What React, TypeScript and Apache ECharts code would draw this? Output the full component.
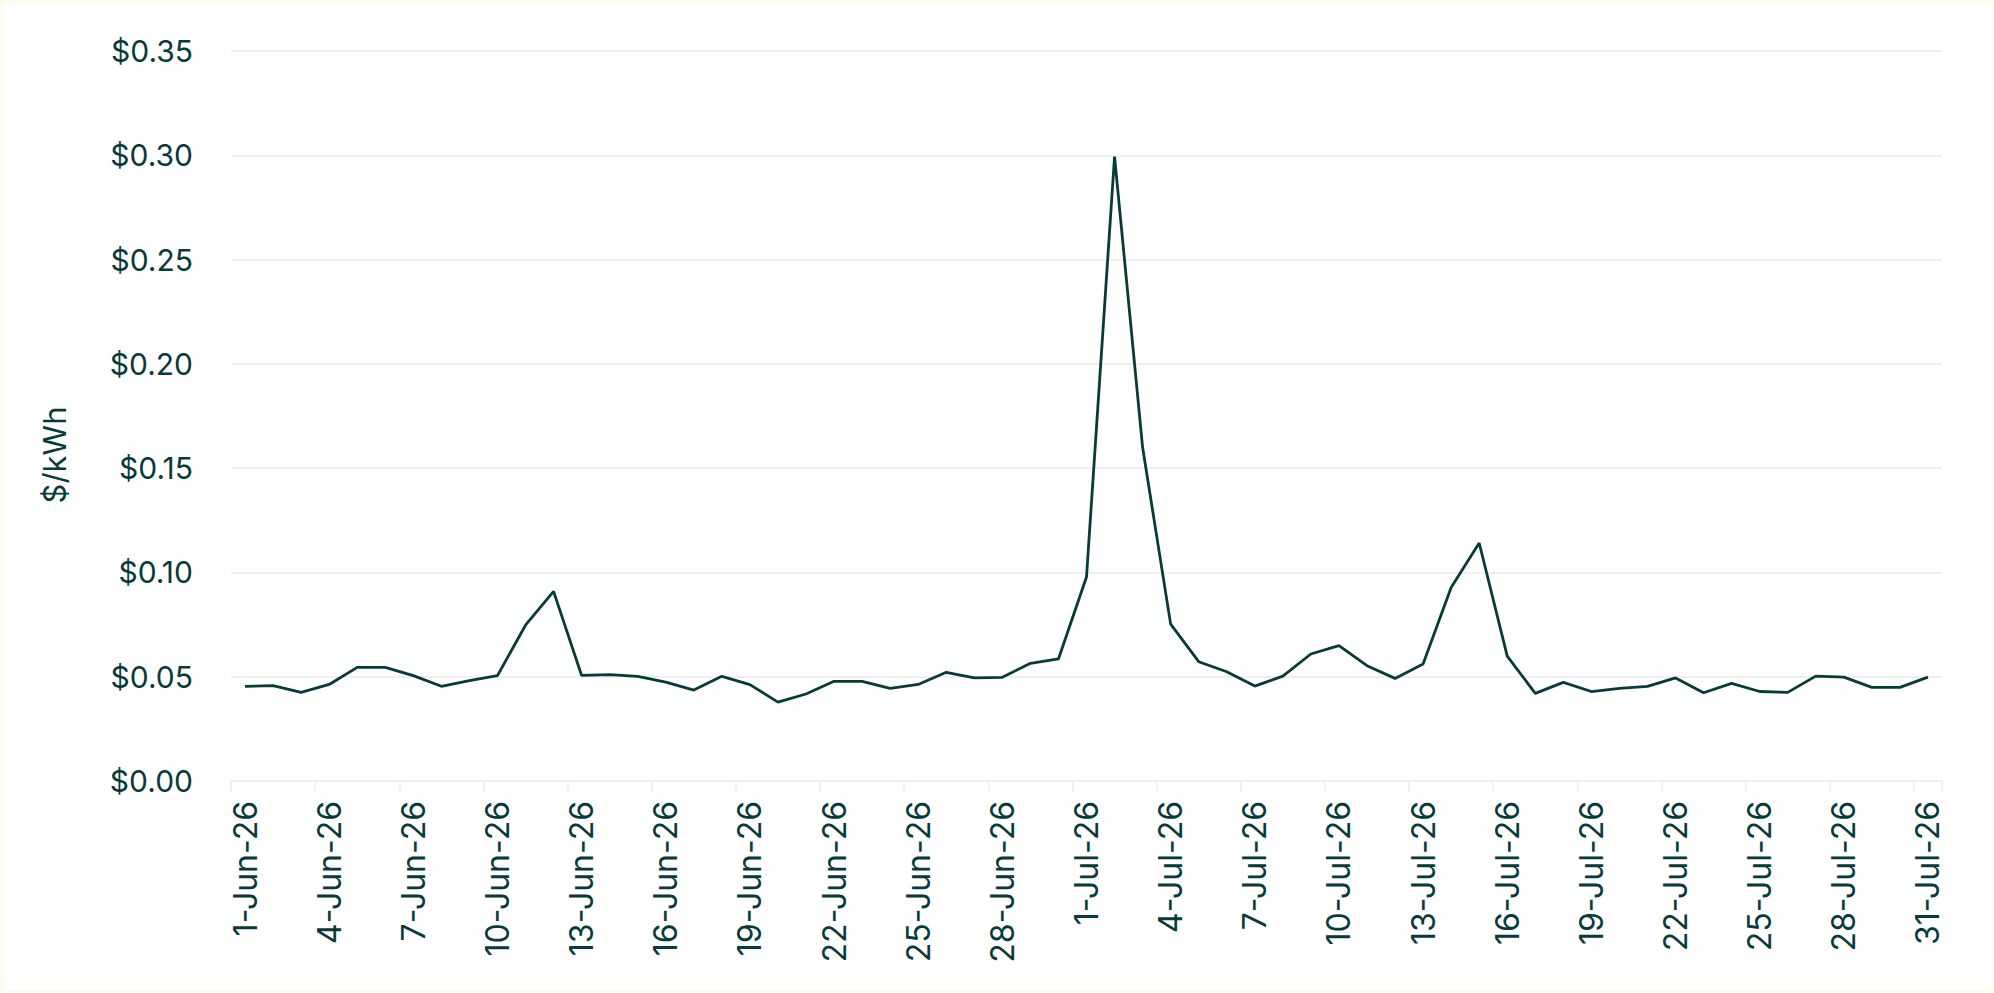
import React, { useEffect, useRef } from "react";
import * as echarts from "echarts";

const categories: string[] = [
  "1-Jun-26", "2-Jun-26", "3-Jun-26", "4-Jun-26", "5-Jun-26", "6-Jun-26", "7-Jun-26", "8-Jun-26",
  "9-Jun-26", "10-Jun-26", "11-Jun-26", "12-Jun-26", "13-Jun-26", "14-Jun-26", "15-Jun-26",
  "16-Jun-26", "17-Jun-26", "18-Jun-26", "19-Jun-26", "20-Jun-26", "21-Jun-26", "22-Jun-26",
  "23-Jun-26", "24-Jun-26", "25-Jun-26", "26-Jun-26", "27-Jun-26", "28-Jun-26", "29-Jun-26",
  "30-Jun-26", "1-Jul-26", "2-Jul-26", "3-Jul-26", "4-Jul-26", "5-Jul-26", "6-Jul-26", "7-Jul-26",
  "8-Jul-26", "9-Jul-26", "10-Jul-26", "11-Jul-26", "12-Jul-26", "13-Jul-26", "14-Jul-26",
  "15-Jul-26", "16-Jul-26", "17-Jul-26", "18-Jul-26", "19-Jul-26", "20-Jul-26", "21-Jul-26",
  "22-Jul-26", "23-Jul-26", "24-Jul-26", "25-Jul-26", "26-Jul-26", "27-Jul-26", "28-Jul-26",
  "29-Jul-26", "30-Jul-26", "31-Jul-26",
];

const juneValues: number[] = [
  0.0454, 0.0457, 0.0425, 0.0463, 0.0545, 0.0545, 0.0505, 0.0454, 0.0481, 0.0505,
  0.0747, 0.0909, 0.0506, 0.051, 0.0502, 0.0474, 0.0436, 0.0502, 0.0462, 0.0378,
  0.0417, 0.0478, 0.0478, 0.0444, 0.0463, 0.0521, 0.0494, 0.0497, 0.0564, 0.0585,
];

const julyValues: number[] = [
  0.0978, 0.2994, 0.16, 0.0752, 0.0572, 0.0524, 0.0455, 0.0503, 0.0609, 0.0649,
  0.0553, 0.0492, 0.0561, 0.0928, 0.1141, 0.0599, 0.042, 0.0473, 0.0429, 0.0444,
  0.0454, 0.0494, 0.0423, 0.0468, 0.0429, 0.0425, 0.0503, 0.0498, 0.0449, 0.0449,
  0.0498,
];

const yAxisName = "$/kWh";
const yMin = 0;
const yMax = 0.35;
const yStep = 0.05;

const TEXT = "#073b3b";
const LINE = "#063c38";
const GRID = "#efefef";
const FONT = "Inter, 'Liberation Sans', sans-serif";

export default function App() {
  const ref = useRef<HTMLDivElement>(null);

  useEffect(() => {
    document.body.style.margin = "0";
    document.body.style.overflow = "hidden";
    if (!ref.current) return;
    const chart = echarts.init(ref.current, undefined, { renderer: "svg" });
    const values = [...juneValues, ...julyValues];
    chart.setOption({
      animation: false,
      backgroundColor: "#ffffff",
      grid: { left: 231, right: 52, top: 51, bottom: 212, containLabel: false },
      xAxis: {
        type: "category",
        data: categories,
        boundaryGap: true,
        axisLine: { show: true, lineStyle: { color: GRID, width: 2 } },
        axisTick: { show: true, interval: 2, length: 10, lineStyle: { color: GRID, width: 2 } },
        axisLabel: {
          interval: 2,
          rotate: 90,
          margin: 20,
          color: TEXT,
          fontFamily: FONT,
          fontSize: 32,
        },
        splitLine: { show: false },
      },
      yAxis: {
        type: "value",
        min: yMin,
        max: yMax,
        interval: yStep,
        axisLine: { show: false },
        axisTick: { show: false },
        axisLabel: {
          margin: 38,
          color: TEXT,
          fontFamily: FONT,
          fontSize: 30,
          formatter: (v: number) => "$" + v.toFixed(2),
        },
        splitLine: { show: true, lineStyle: { color: GRID, width: 2 } },
      },
      graphic: [
        {
          type: "text",
          x: 54,
          y: 455,
          rotation: Math.PI / 2,
          style: {
            text: yAxisName,
            fill: TEXT,
            fontFamily: FONT,
            fontSize: 31,
            align: "center",
            verticalAlign: "middle",
          },
        },
      ],
      series: [
        {
          type: "line",
          data: values,
          symbol: "none",
          lineStyle: { color: LINE, width: 2.8 },
        },
      ],
    });
    return () => chart.dispose();
  }, []);

  return (
    <div style={{ position: "relative", width: 1994, height: 993 }}>
      <div ref={ref} style={{ width: 1994, height: 993 }} />
      <div
        style={{
          position: "absolute",
          inset: 0,
          border: "3px solid #fdfcee",
          pointerEvents: "none",
        }}
      />
    </div>
  );
}
